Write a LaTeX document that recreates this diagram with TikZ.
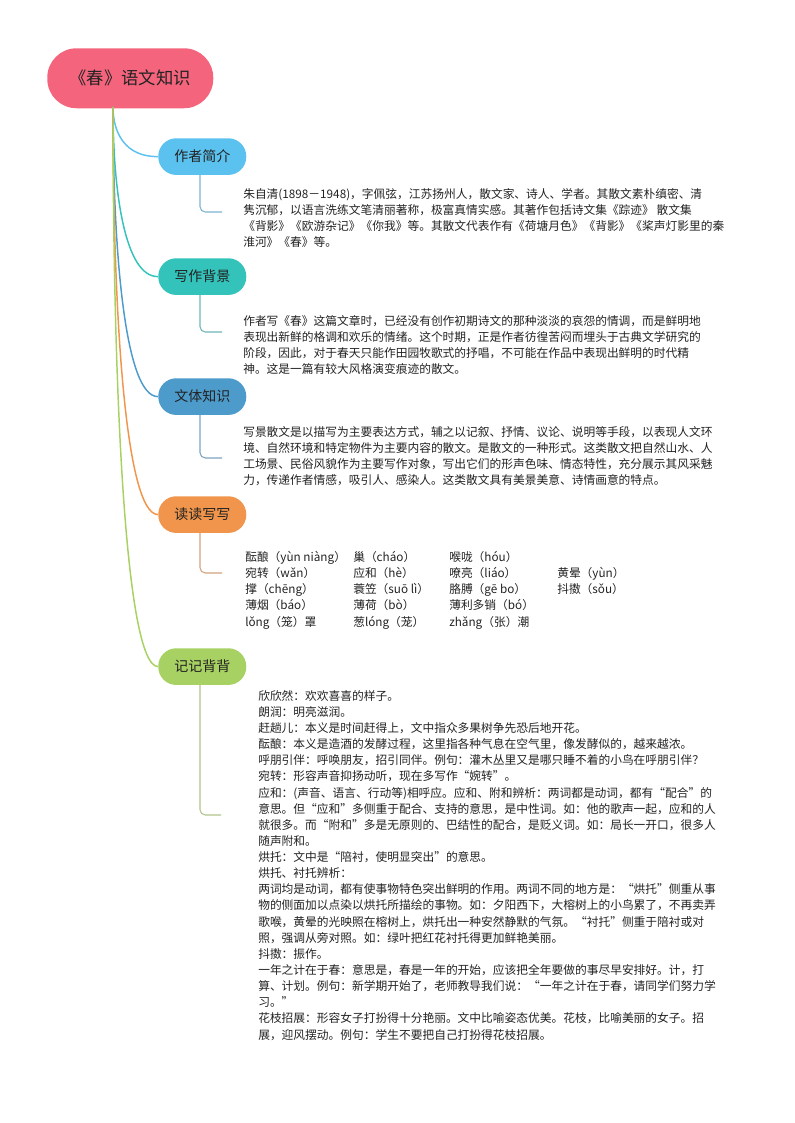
\documentclass[tikz,border=0pt]{standalone}
\usepackage{fontspec}
\setmainfont{Noto Sans CJK SC}
\usetikzlibrary{calc}
\definecolor{cRoot}{HTML}{F4657D}
\definecolor{cA}{HTML}{5BC1EE}
\definecolor{cB}{HTML}{33C3BA}
\definecolor{cC}{HTML}{4D9BCB}
\definecolor{cD}{HTML}{F0954B}
\definecolor{cE}{HTML}{A7D162}
\definecolor{lA}{HTML}{7DB3CE}
\definecolor{lB}{HTML}{6FB5B8}
\definecolor{lC}{HTML}{7EA3C2}
\definecolor{lD}{HTML}{D4A27F}
\definecolor{lE}{HTML}{AFC58A}
\definecolor{txt}{HTML}{222222}
\begin{document}
\begin{tikzpicture}[x=0.75pt,y=-0.75pt,
  branch/.style={draw=none,fill=#1,rounded corners=13.5pt,minimum width=66pt,minimum height=27.5pt,anchor=north west,inner sep=0pt,font=\fontsize{10.5pt}{12pt}\selectfont,text=txt},
  body/.style={anchor=north west,align=left,inner sep=0pt,font=\fontsize{8.8pt}{12.1pt}\selectfont,text=txt},
  trunk/.style={draw=#1,line width=1.1pt},
  twig/.style={draw=#1,line width=0.8pt,rounded corners=4pt}]
\useasboundingbox (0,0) rectangle (794,1123);
\node[fill=cRoot,rounded corners=22pt,minimum width=124.5pt,minimum height=45pt,anchor=north west,inner sep=0pt,font=\fontsize{13pt}{15pt}\selectfont,text=txt] (root) at (47,48) {《春》语文知识};
\coordinate (r0) at (113,107);
\node[branch=cA] (b1) at (158,138) {作者简介};
\node[branch=cB] (b2) at (158,258) {写作背景};
\node[branch=cC] (b3) at (158,378) {文体知识};
\node[branch=cD] (b4) at (158,496) {读读写写};
\node[branch=cE] (b5) at (158,648) {记记背背};
\foreach \b/\y/\c in {b1/157/cA,b2/277/cB,b3/397/cC,b4/514/cD,b5/666/cE}{
  \draw[trunk=\c] (r0) .. controls (113,{108+(\y-108)*0.5}) and (125,\y) .. (\b.west);
}
\coordinate (e1) at (222,212);
\coordinate (e2) at (222,332);
\coordinate (e3) at (222,458);
\coordinate (e4) at (222,573);
\coordinate (e5) at (221,815);
\foreach \b/\e/\c in {b1/e1/lA,b2/e2/lB,b3/e3/lC,b4/e4/lD,b5/e5/lE}{
  \draw[twig=\c] ($(\b.south west)+(42,0)$) |- (\e);
}
\node[body] (t1) at (243,188) {朱自清(1898－1948)，字佩弦，江苏扬州人，散文家、诗人、学者。其散文素朴缜密、清\\隽沉郁，以语言洗练文笔清丽著称，极富真情实感。其著作包括诗文集《踪迹》 散文集\\《背影》《欧游杂记》《你我》等。其散文代表作有《荷塘月色》《背影》《桨声灯影里的秦\\淮河》《春》等。};
\node[body] (t2) at (243,315) {作者写《春》这篇文章时，已经没有创作初期诗文的那种淡淡的哀怨的情调，而是鲜明地\\表现出新鲜的格调和欢乐的情绪。这个时期，正是作者彷徨苦闷而埋头于古典文学研究的\\阶段，因此，对于春天只能作田园牧歌式的抒唱，不可能在作品中表现出鲜明的时代精\\神。这是一篇有较大风格演变痕迹的散文。};
\node[body] (t3) at (243,426) {写景散文是以描写为主要表达方式，辅之以记叙、抒情、议论、说明等手段，以表现人文环\\境、自然环境和特定物件为主要内容的散文。是散文的一种形式。这类散文把自然山水、人\\工场景、民俗风貌作为主要写作对象，写出它们的形声色味、情态特性，充分展示其风采魅\\力，传递作者情感，吸引人、感染人。这类散文具有美景美意、诗情画意的特点。};
\node[body] (p1) at (245,551) {酝酿（yùn niàng）\\宛转（wǎn）\\撑（chēng）\\薄烟（báo）\\lǒng（笼）罩};
\node[body] (p2) at (353,551) {巢（cháo）\\应和（hè）\\蓑笠（suō lì）\\薄荷（bò）\\葱lóng（茏）};
\node[body] (p3) at (449,551) {喉咙（hóu）\\嘹亮（liáo）\\胳膊（gē bo）\\薄利多销（bó）\\zhǎng（张）潮};
\node[body] (p4) at (557,567) {黄晕（yùn）\\抖擞（sǒu）};
\node[body] (t5) at (258,690) {欣欣然：欢欢喜喜的样子。\\朗润：明亮滋润。\\赶趟儿：本义是时间赶得上，文中指众多果树争先恐后地开花。\\酝酿：本义是造酒的发酵过程，这里指各种气息在空气里，像发酵似的，越来越浓。\\呼朋引伴：呼唤朋友，招引同伴。例句：灌木丛里又是哪只睡不着的小鸟在呼朋引伴？\\宛转：形容声音抑扬动听，现在多写作“婉转”。\\应和：(声音、语言、行动等)相呼应。应和、附和辨析：两词都是动词，都有“配合”的\\意思。但“应和”多侧重于配合、支持的意思，是中性词。如：他的歌声一起，应和的人\\就很多。而“附和”多是无原则的、巴结性的配合，是贬义词。如：局长一开口，很多人\\随声附和。\\烘托：文中是“陪衬，使明显突出”的意思。\\烘托、衬托辨析：\\两词均是动词，都有使事物特色突出鲜明的作用。两词不同的地方是：“烘托”侧重从事\\物的侧面加以点染以烘托所描绘的事物。如：夕阳西下，大榕树上的小鸟累了，不再卖弄\\歌喉，黄晕的光映照在榕树上，烘托出一种安然静默的气氛。“衬托”侧重于陪衬或对\\照，强调从旁对照。如：绿叶把红花衬托得更加鲜艳美丽。\\抖擞：振作。\\一年之计在于春：意思是，春是一年的开始，应该把全年要做的事尽早安排好。计，打\\算、计划。例句：新学期开始了，老师教导我们说：“一年之计在于春，请同学们努力学\\习。”\\花枝招展：形容女子打扮得十分艳丽。文中比喻姿态优美。花枝，比喻美丽的女子。招\\展，迎风摆动。例句：学生不要把自己打扮得花枝招展。};
\end{tikzpicture}
\end{document}
